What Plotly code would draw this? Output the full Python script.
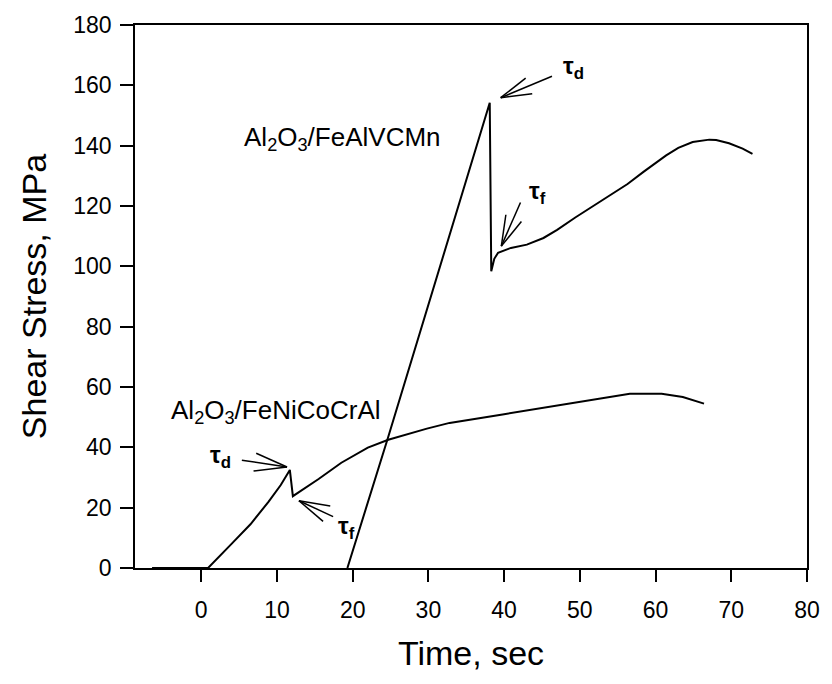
import math
import plotly.graph_objects as go

# ---- data ----
feni_time = [-6.5, 0.9, 4.0, 6.5, 8.9, 10.5, 11.7, 12.1, 15.5, 18.5, 22.0, 24.7, 29.8,
             32.8, 39.8, 46.8, 50.3, 53.8, 56.6, 60.8, 63.6, 66.4]
feni_stress = [0.0, 0.0, 8.0, 14.5, 22.0, 27.5, 32.5, 23.8, 29.5, 34.9, 39.9, 42.5, 46.2,
               48.1, 50.9, 53.8, 55.2, 56.7, 57.8, 57.8, 56.7, 54.5]

feal_time = [19.3, 24.7, 38.1, 38.3, 38.7, 39.2, 40.9, 43.0, 45.2, 47.0, 49.4, 51.5, 54.0,
             56.3, 58.4, 60.1, 61.4, 63.0, 64.9, 67.1, 68.0, 69.7, 71.5, 72.8]
feal_stress = [0.0, 43.5, 154.2, 98.4, 102.5, 104.5, 106.1, 107.2, 109.4, 112.1, 116.2, 119.5,
               123.7, 127.3, 131.3, 134.3, 136.8, 139.3, 141.2, 142.0, 141.9, 140.8, 139.0, 137.3]

x_ticks = [0, 10, 20, 30, 40, 50, 60, 70, 80]
y_ticks = [0, 20, 40, 60, 80, 100, 120, 140, 160, 180]
x_range = [-8.75, 80]
y_range = [0, 180]

series_labels = ["Al<sub>2</sub>O<sub>3</sub>/FeAlVCMn", "Al<sub>2</sub>O<sub>3</sub>/FeNiCoCrAl"]
series_label_x = [5.4, -4.2]
series_label_y = [142.5, 51.9]

tau_labels = ["τ<sub>d</sub>", "τ<sub>f</sub>", "τ<sub>d</sub>", "τ<sub>f</sub>"]
tau_label_x = [49.2, 44.4, 2.5, 19.2]
tau_label_y = [166.0, 124.5, 36.8, 13.5]

# arrow tips (data), stem direction (deg, screen, y down), stem / barb length (px)
arrow_tip_x = [39.55, 39.63, 11.33, 12.9]
arrow_tip_y = [155.9, 106.7, 33.5, 22.3]
arrow_angle = [-22.7, -66.3, 188.4, 25.0]
arrow_stem = [56, 48, 46, 38]
arrow_barb = [32, 32, 34, 32]
barb_spread = 15.5

W, H = 832, 684
M = dict(l=135, r=20, t=20, b=116)
px_per_x = (W - M["l"] - M["r"]) / (x_range[1] - x_range[0])
px_per_y = (H - M["t"] - M["b"]) / (y_range[1] - y_range[0])

fig = go.Figure()
line_style = dict(color="black", width=2)
fig.add_trace(go.Scatter(x=feni_time, y=feni_stress, mode="lines", line=line_style,
                         showlegend=False, hoverinfo="skip"))
fig.add_trace(go.Scatter(x=feal_time, y=feal_stress, mode="lines", line=line_style,
                         showlegend=False, hoverinfo="skip"))

# open hand-drawn style arrows (stem + two barbs)
ax_pts, ay_pts = [], []
for tx, ty, ang, stem, barb in zip(arrow_tip_x, arrow_tip_y, arrow_angle, arrow_stem, arrow_barb):
    for a, ln in ((ang, stem), (ang - barb_spread, barb), (ang + barb_spread, barb)):
        r = math.radians(a)
        ax_pts += [tx, tx + ln * math.cos(r) / px_per_x, None]
        ay_pts += [ty, ty - ln * math.sin(r) / px_per_y, None]
fig.add_trace(go.Scatter(x=ax_pts, y=ay_pts, mode="lines",
                         line=dict(color="black", width=1.5),
                         showlegend=False, hoverinfo="skip", cliponaxis=False))

font_family = "Liberation Sans, Arial, Helvetica, sans-serif"

annotations = []
for txt, x, y in zip(series_labels, series_label_x, series_label_y):
    annotations.append(dict(x=x, y=y, xref="x", yref="y", text=txt, showarrow=False,
                            xanchor="left", yanchor="middle",
                            font=dict(family=font_family, size=26, color="black")))
for txt, x, y in zip(tau_labels, tau_label_x, tau_label_y):
    annotations.append(dict(x=x, y=y, xref="x", yref="y", text="<b>" + txt + "</b>",
                            showarrow=False, xanchor="center", yanchor="middle",
                            font=dict(family=font_family, size=24, color="black")))

axis_common = dict(showline=True, linecolor="black", linewidth=1.8, mirror=True,
                   ticks="outside", tickcolor="black", tickwidth=1.8,
                   showgrid=False, zeroline=False,
                   tickfont=dict(family=font_family, size=23, color="black"))

fig.update_layout(
    width=W, height=H,
    margin=M,
    paper_bgcolor="white", plot_bgcolor="white",
    xaxis=dict(range=x_range, tickvals=x_ticks, ticklen=12, ticklabelstandoff=8,
               title=dict(text="Time, sec", standoff=20,
                          font=dict(family=font_family, size=34, color="black")),
               **axis_common),
    yaxis=dict(range=y_range, tickvals=y_ticks, ticklen=13, ticklabelstandoff=4,
               title=dict(text="Shear Stress, MPa", standoff=16,
                          font=dict(family=font_family, size=34, color="black")),
               **axis_common),
    annotations=annotations,
)

fig.write_html("out.html", config={"displayModeBar": False},
               post_script="document.body.style.margin='0px';document.body.style.padding='0px';")
